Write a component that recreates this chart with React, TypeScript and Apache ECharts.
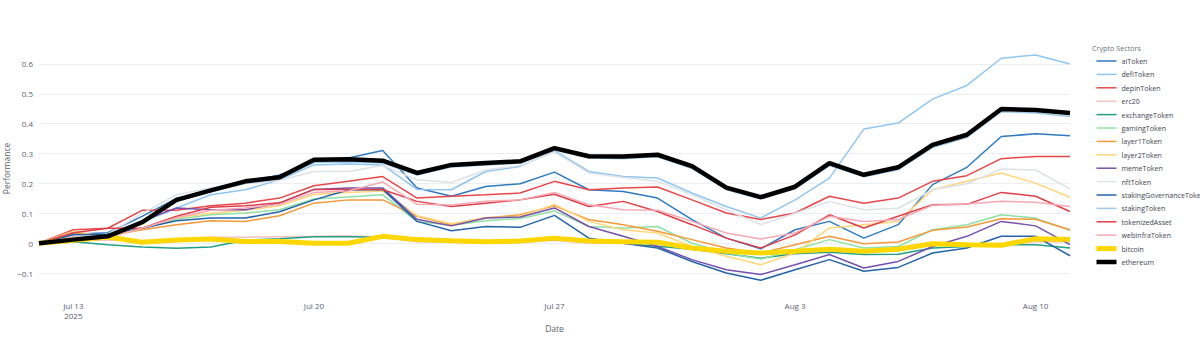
import { useEffect, useRef } from 'react';
import * as echarts from 'echarts';

const dates = [
  '2025-07-12', '2025-07-13', '2025-07-14', '2025-07-15', '2025-07-16', '2025-07-17', '2025-07-18',
  '2025-07-19', '2025-07-20', '2025-07-21', '2025-07-22', '2025-07-23', '2025-07-24', '2025-07-25',
  '2025-07-26', '2025-07-27', '2025-07-28', '2025-07-29', '2025-07-30', '2025-07-31', '2025-08-01',
  '2025-08-02', '2025-08-03', '2025-08-04', '2025-08-05', '2025-08-06', '2025-08-07', '2025-08-08',
  '2025-08-09', '2025-08-10', '2025-08-11',
];

const aiToken = [0, 0.03, 0.035, 0.09, 0.15, 0.175, 0.203, 0.228, 0.27, 0.285, 0.31, 0.185, 0.157, 0.19, 0.199, 0.238, 0.179, 0.173, 0.151, 0.079, 0.017, -0.019, 0.045, 0.073, 0.017, 0.062, 0.196, 0.254, 0.357, 0.366, 0.36];
const defiToken = [0, 0.02, 0.03, 0.07, 0.118, 0.162, 0.179, 0.212, 0.262, 0.265, 0.262, 0.18, 0.179, 0.24, 0.257, 0.31, 0.24, 0.223, 0.218, 0.168, 0.123, 0.084, 0.145, 0.218, 0.382, 0.402, 0.482, 0.528, 0.619, 0.63, 0.6];
const depinToken = [0, 0.045, 0.05, 0.11, 0.11, 0.125, 0.134, 0.151, 0.192, 0.207, 0.223, 0.151, 0.157, 0.162, 0.168, 0.207, 0.179, 0.185, 0.188, 0.145, 0.101, 0.079, 0.101, 0.157, 0.134, 0.151, 0.207, 0.226, 0.283, 0.29, 0.29];
const erc20 = [0, 0.01, 0.01, 0.008, 0.012, 0.02, 0.02, 0.022, 0.023, 0.025, 0.02, 0.005, 0.003, 0.0, 0.002, 0.01, 0.0, 0.0, -0.003, -0.015, -0.025, -0.03, -0.025, -0.02, -0.025, -0.018, -0.005, -0.005, -0.005, 0.005, 0.005];
const exchangeToken = [0, 0.005, -0.005, -0.013, -0.017, -0.013, 0.01, 0.015, 0.022, 0.022, 0.02, 0.01, 0.005, 0.003, 0.005, 0.012, 0.01, 0.0, -0.01, -0.02, -0.035, -0.05, -0.035, -0.03, -0.038, -0.037, -0.016, -0.011, -0.005, -0.005, -0.016];
const gamingToken = [0, 0.02, 0.02, 0.05, 0.08, 0.095, 0.101, 0.112, 0.148, 0.155, 0.162, 0.073, 0.06, 0.075, 0.083, 0.108, 0.056, 0.051, 0.056, 0.0, -0.033, -0.053, -0.022, 0.012, -0.016, -0.011, 0.045, 0.062, 0.095, 0.084, 0.043];
const layer1Token = [0, 0.035, 0.025, 0.045, 0.062, 0.075, 0.073, 0.092, 0.134, 0.145, 0.145, 0.09, 0.062, 0.084, 0.095, 0.125, 0.079, 0.062, 0.04, 0.012, -0.016, -0.033, -0.005, 0.023, -0.002, 0.004, 0.043, 0.054, 0.082, 0.08, 0.045];
const layer2Token = [0, 0.04, 0.02, 0.05, 0.085, 0.1, 0.11, 0.125, 0.163, 0.17, 0.175, 0.092, 0.065, 0.086, 0.09, 0.13, 0.073, 0.045, 0.034, -0.011, -0.044, -0.072, -0.033, 0.051, 0.062, 0.073, 0.179, 0.207, 0.235, 0.201, 0.154];
const memeToken = [0, 0.015, 0.02, 0.075, 0.118, 0.112, 0.112, 0.134, 0.18, 0.185, 0.185, 0.08, 0.058, 0.084, 0.088, 0.118, 0.056, 0.023, -0.011, -0.055, -0.089, -0.105, -0.072, -0.038, -0.083, -0.061, -0.011, 0.023, 0.073, 0.058, -0.005];
const nftToken = [0, 0.02, 0.03, 0.1, 0.162, 0.185, 0.2, 0.21, 0.24, 0.24, 0.26, 0.212, 0.203, 0.245, 0.26, 0.305, 0.235, 0.22, 0.207, 0.162, 0.112, 0.062, 0.1, 0.14, 0.112, 0.117, 0.179, 0.199, 0.248, 0.245, 0.182];
const stakingGovernanceToken = [0, 0.028, 0.03, 0.05, 0.075, 0.084, 0.084, 0.105, 0.145, 0.178, 0.18, 0.073, 0.042, 0.056, 0.053, 0.093, 0.017, 0.0, -0.016, -0.061, -0.1, -0.124, -0.089, -0.055, -0.094, -0.081, -0.033, -0.016, 0.023, 0.023, -0.042];
const stakingToken = [0, 0.011, 0.021, 0.066, 0.14, 0.172, 0.2, 0.215, 0.27, 0.272, 0.268, 0.228, 0.255, 0.262, 0.268, 0.312, 0.285, 0.283, 0.289, 0.25, 0.179, 0.148, 0.182, 0.26, 0.222, 0.246, 0.32, 0.354, 0.44, 0.436, 0.424];
const tokenizedAsset = [0, 0.035, 0.05, 0.05, 0.09, 0.12, 0.125, 0.135, 0.18, 0.18, 0.18, 0.14, 0.123, 0.134, 0.145, 0.164, 0.123, 0.14, 0.106, 0.062, 0.017, -0.016, 0.028, 0.095, 0.051, 0.09, 0.129, 0.13, 0.17, 0.157, 0.106];
const webInfraToken = [0, 0.02, 0.02, 0.05, 0.085, 0.11, 0.118, 0.13, 0.17, 0.175, 0.205, 0.13, 0.128, 0.14, 0.145, 0.17, 0.129, 0.112, 0.11, 0.073, 0.034, 0.014, 0.034, 0.09, 0.073, 0.079, 0.127, 0.131, 0.14, 0.137, 0.123];
const bitcoin = [0, 0.01, 0.021, 0.003, 0.011, 0.014, 0.006, 0.006, 0.0, 0.0, 0.023, 0.012, 0.008, 0.005, 0.007, 0.017, 0.007, 0.005, 0.003, -0.016, -0.027, -0.033, -0.027, -0.02, -0.027, -0.02, -0.002, -0.005, -0.007, 0.015, 0.012];
const ethereum = [0, 0.012, 0.023, 0.07, 0.145, 0.177, 0.207, 0.221, 0.279, 0.281, 0.276, 0.235, 0.262, 0.268, 0.274, 0.318, 0.291, 0.29, 0.296, 0.258, 0.186, 0.154, 0.189, 0.268, 0.229, 0.254, 0.329, 0.363, 0.449, 0.446, 0.436];

const seriesList: [string, number[], string, number][] = [
  ['aiToken', aiToken, '#2f7bc1', 1.5],
  ['defiToken', defiToken, '#90c6ef', 1.5],
  ['depinToken', depinToken, '#e8474a', 1.5],
  ['erc20', erc20, '#f3c3c0', 1.5],
  ['exchangeToken', exchangeToken, '#22a085', 1.5],
  ['gamingToken', gamingToken, '#8fe0a4', 1.5],
  ['layer1Token', layer1Token, '#f3993a', 1.5],
  ['layer2Token', layer2Token, '#ffd67a', 1.5],
  ['memeToken', memeToken, '#7650b0', 1.5],
  ['nftToken', nftToken, '#dde1e8', 1.5],
  ['stakingGovernanceToken', stakingGovernanceToken, '#2563a8', 1.5],
  ['stakingToken', stakingToken, '#9dc9e6', 1.5],
  ['tokenizedAsset', tokenizedAsset, '#df3e48', 1.5],
  ['webInfraToken', webInfraToken, '#f6a9b4', 1.5],
  ['bitcoin', bitcoin, '#ffd700', 5],
  ['ethereum', ethereum, '#000000', 4.5],
];

const monthNames = ['Jan', 'Feb', 'Mar', 'Apr', 'May', 'Jun', 'Jul', 'Aug', 'Sep', 'Oct', 'Nov', 'Dec'];
const FONT = '"Open Sans", "Liberation Sans", sans-serif';

export default function App() {
  const ref = useRef<HTMLDivElement>(null);
  useEffect(() => {
    document.body.style.margin = '0';
    const chart = echarts.init(ref.current!, undefined, { renderer: 'svg' });
    chart.setOption({
      animation: false,
      backgroundColor: '#ffffff',
      title: {
        text: 'Crypto Sectors',
        left: 1092,
        top: 44,
        padding: 0,
        textStyle: { fontSize: 7.2, color: '#6b7280', fontWeight: 'normal', fontFamily: FONT },
      },
      legend: {
        orient: 'vertical',
        left: 1094,
        top: 55,
        padding: 0,
        itemWidth: 20,
        itemHeight: 12,
        itemGap: 1.4,
        itemStyle: { color: 'transparent', borderColor: 'transparent', borderWidth: 0 },
        lineStyle: { width: 'inherit' },
        textStyle: { fontSize: 7.1, color: '#3d4450', fontFamily: FONT, lineHeight: 12 },
        data: seriesList.map((s) => s[0]),
      },
      grid: { left: 39, right: 130, top: 43, bottom: 57, outerBoundsMode: 'none', containLabel: false },
      xAxis: {
        type: 'category',
        data: dates,
        boundaryGap: false,
        name: 'Date',
        nameLocation: 'middle',
        nameGap: 30,
        nameMoveOverlap: false,
        nameTextStyle: { fontSize: 8.5, color: '#5a6270', fontFamily: FONT },
        axisLine: { show: false },
        axisTick: { show: false },
        splitLine: { show: false },
        axisLabel: {
          interval: (index: number) => (index - 1) % 7 === 0,
          fontSize: 8,
          lineHeight: 10,
          margin: 6,
          color: '#5a6270',
          fontFamily: FONT,
          formatter: (v: string, index: number) => {
            const parts = v.split('-');
            const label = monthNames[Number(parts[1]) - 1] + ' ' + Number(parts[2]);
            return index === 1 ? label + '\n' + parts[0] : label;
          },
        },
      },
      yAxis: {
        type: 'value',
        min: -0.17,
        max: 0.67,
        splitNumber: 8,
        minInterval: 0.1,
        maxInterval: 0.1,
        name: 'Performance',
        nameLocation: 'middle',
        nameGap: 28,
        nameMoveOverlap: false,
        nameTextStyle: { fontSize: 8.5, color: '#5a6270', fontFamily: FONT },
        axisLine: { show: false },
        axisTick: { show: false },
        axisLabel: {
          showMinLabel: false,
          showMaxLabel: false,
          fontSize: 8,
          margin: 6,
          color: '#5a6270',
          fontFamily: FONT,
          formatter: (v: number) => {
            const r = Math.round(v * 10);
            if (Math.abs(v * 10 - r) > 1e-6) return '';
            if (r === 0) return '0';
            return (r < 0 ? '\u2212' : '') + (Math.abs(r) / 10).toString();
          },
        },
        splitLine: { showMinLine: false, showMaxLine: false, lineStyle: { color: '#ebeef3', width: 1 } },
      },
      series: seriesList.map(([name, data, color, width]) => ({
        name,
        type: 'line',
        data,
        symbol: 'circle',
        showSymbol: false,
        color,
        lineStyle: { color, width },
        emphasis: { disabled: true },
      })),
    });
    return () => chart.dispose();
  }, []);
  return <div ref={ref} style={{ width: 1200, height: 351, position: 'absolute', left: 0, top: 0 }} />;
}
